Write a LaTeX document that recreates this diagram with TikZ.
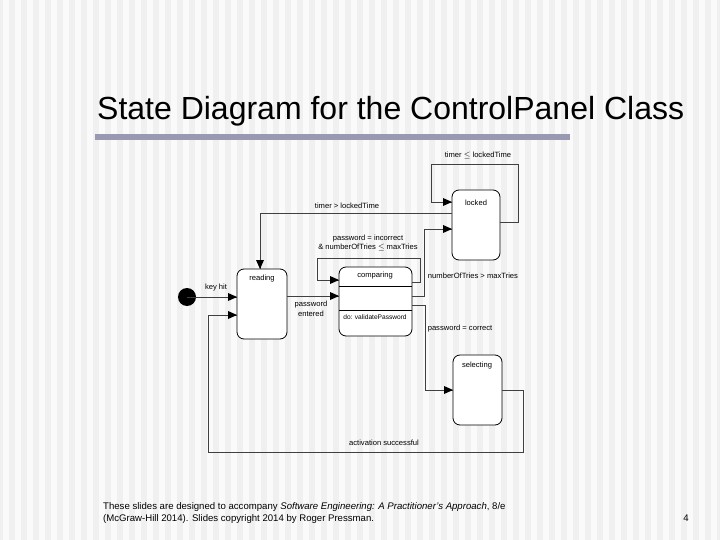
\documentclass[tikz,border=0pt]{standalone}
\usepackage{fontspec}
\setmainfont{Liberation Sans}
\begin{document}
\begin{tikzpicture}[x=1pt,y=-1pt,
  st/.style={draw,thick,rounded corners=7pt,fill=white},
  lab/.style={font=\fontsize{7.6}{8.5}\selectfont,inner sep=0pt},
  tr/.style={draw=black!75,line width=0.8pt},
  tip/.style={fill=black}]
\useasboundingbox (0,0) rectangle (720,540);
\fill[black!6] (0,0) rectangle (720,540);
\foreach \i in {0,...,59} {\fill[black!2] (\i*12+3,0) rectangle (\i*12+9,540);}
\node[anchor=west,inner sep=0pt,font=\fontsize{32}{36}\selectfont] (title) at (97,111) {State Diagram for the ControlPanel Class};
\fill[blue!25!black!40] (95,134) rectangle (570,140);
% states
\fill (187,297) circle (9) coordinate (init);
\draw[st] (237,269) rectangle (287,339);
\node[lab] (reading) at (262,279) {reading};
\draw[st] (339,267) rectangle (412,336);
\draw (339,286) -- (412,286) (339,310) -- (412,310);
\node[lab] (comparing) at (375,276) {comparing};
\node[lab,font=\fontsize{6.6}{7}\selectfont] (do) at (375,317) {do: validatePassword};
\draw[st] (452,190) rectangle (500,260);
\node[lab] (locked) at (476,203) {locked};
\draw[st] (453,355) rectangle (502,425);
\node[lab] (selecting) at (477,366) {selecting};
% connectors
\coordinate (rL) at (237,297); \coordinate (rL2) at (237,315); \coordinate (rT) at (260,269);
\coordinate (rR) at (287,296);
\coordinate (cL) at (339,296); \coordinate (cL2) at (339,280);
\coordinate (cR1) at (412,282); \coordinate (cR2) at (412,296); \coordinate (cR3) at (412,305);
\coordinate (lL1) at (452,202); \coordinate (lL2) at (452,213); \coordinate (lL3) at (452,229); \coordinate (lR) at (500,222);
\coordinate (sL) at (453,390); \coordinate (sR) at (502,390);
\draw[tr] (init) -- (rL);
\draw[tr] (sR) -| (523,452) -| (208,315) -- (rL2);
\draw[tr] (rR) -- (cL);
\draw[tr] (cR1) -- (420,282) |- (317,258) |- (cL2);
\draw[tr] (cR2) -| (424,229) -- (lL3);
\draw[tr] (cR3) -| (425,390) -- (sL);
\draw[tr] (lR) -| (518,164) -| (431,202) -- (lL1);
\draw[tr] (lL2) -| (rT);
% arrowheads
\foreach \p in {rL,rL2,cL,cL2,lL1,lL3,sL} {\fill[tip] (\p) -- ++(-9,-4) -- ++(0,8) -- cycle;}
\fill[tip] (rT) -- ++(-4,-9) -- ++(8,0) -- cycle;
% labels
\node[lab] (l1) at (216,288) {key hit};
\node[lab,align=center] (l2) at (311,309) {password\\[1pt]entered};
\node[lab,align=center] (l3) at (368,243) {password = incorrect\\[1pt]\& numberOfTries \(\le\) maxTries};
\node[lab] (l4) at (473,276) {numberOfTries > maxTries};
\node[lab] (l5) at (460,329) {password = correct};
\node[lab] (l6) at (478,155) {timer \(\le\) lockedTime};
\node[lab] (l7) at (347,206) {timer > lockedTime};
\node[lab] (l8) at (384,443) {activation successful};
% footer
\node[anchor=west,align=left,inner sep=0pt,font=\fontsize{9.6}{12}\selectfont] (foot) at (103,513) {These slides are designed to accompany \textit{Software Engineering: A Practitioner's Approach}, 8/e\\(McGraw-Hill 2014). Slides copyright 2014 by Roger Pressman.};
\node[font=\fontsize{9.6}{10}\selectfont,inner sep=0pt] (pg) at (686,518) {4};
\end{tikzpicture}
\end{document}
